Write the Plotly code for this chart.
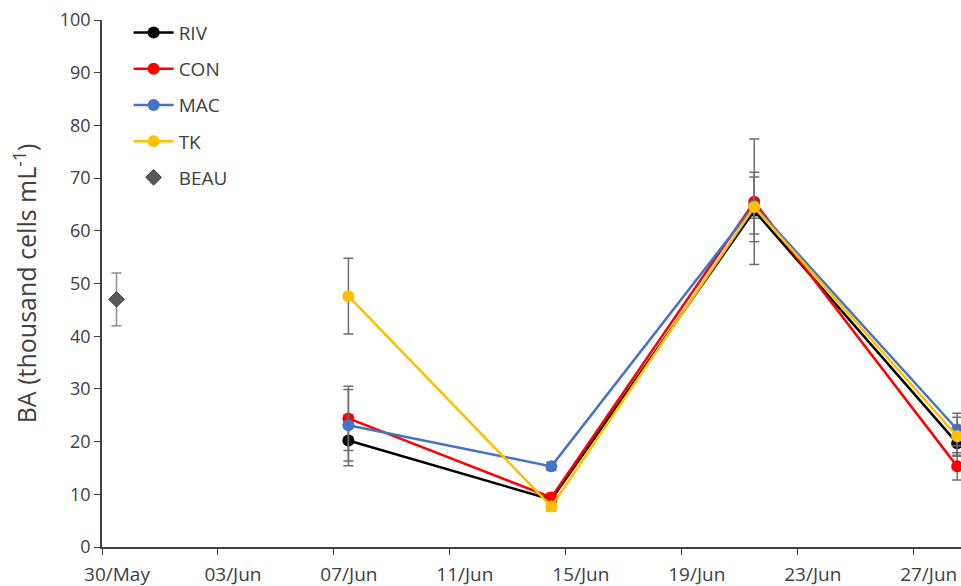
import plotly.graph_objects as go

dates = ["2019-06-07 12:00", "2019-06-14 12:00", "2019-06-21 12:00", "2019-06-28 12:00"]
riv = [20.2, 9.0, 63.8, 19.7]
riv_err = [4.8, 0.8, 1.4, 2.5]
con = [24.4, 9.4, 65.5, 15.3]
con_err = [6.1, 0.8, 11.9, 2.6]
mac = [23.1, 15.3, 64.8, 22.3]
mac_err = [6.8, 0.8, 5.4, 3.1]
tk = [47.6, 7.7, 64.5, 21.0]
tk_err = [7.2, 0.8, 6.6, 3.6]
beau_date = ["2019-05-30 12:00"]
beau = [47.0]
beau_err = [5.0]

series = [
    ("RIV", riv, riv_err, "#000000"),
    ("CON", con, con_err, "#FF0000"),
    ("MAC", mac, mac_err, "#4472C4"),
    ("TK", tk, tk_err, "#FFC000"),
]

font_family = "Open Sans, Lato, sans-serif"
err_color = "#6E6E6E"

fig = go.Figure()
for name, vals, errs, color in series:
    fig.add_trace(go.Scatter(
        x=dates, y=vals, name=name, mode="lines+markers",
        legendgroup=name,
        line=dict(color=color, width=2.5),
        marker=dict(color=color, size=12, line=dict(width=0)),
        error_y=dict(type="data", array=errs, visible=True, color=err_color,
                     thickness=1.5, width=5),
    ))

fig.add_trace(go.Scatter(
    x=beau_date, y=beau, name="BEAU", mode="markers", legendgroup="BEAU",
    marker=dict(symbol="diamond", color="#595959", size=12,
                line=dict(color="#3A3A3A", width=1)),
    error_y=dict(type="data", array=beau_err, visible=True, color="#8C8C8C",
                 thickness=1.5, width=5),
))

fig.update_layout(
    width=961, height=586,
    margin=dict(l=102, r=0, t=20, b=39),
    plot_bgcolor="white", paper_bgcolor="white",
    font=dict(family=font_family, size=18, color="#404040"),
    showlegend=True,
    legend=dict(x=0.031, y=1.012, xanchor="left", yanchor="top",
                bgcolor="rgba(0,0,0,0)", tracegroupgap=8.5, itemwidth=40,
                font=dict(size=19, color="#404040")),
    xaxis=dict(
        type="date", automargin=False,
        range=["2019-05-30 00:00", "2019-06-28 15:10"],
        tick0="2019-05-30", dtick=4 * 86400000, tickformat="%d/%b",
        ticklabelshift=15, ticklabelstandoff=3,
        ticks="outside", ticklen=6, tickcolor="#404040", tickwidth=1.2,
        showline=True, linecolor="#404040", linewidth=1.5,
        showgrid=False, zeroline=False,
        tickfont=dict(size=19, color="#404040"),
    ),
    yaxis=dict(
        range=[0, 100], dtick=10, automargin=False,
        ticks="outside", ticklen=6, tickcolor="#404040", tickwidth=1.2,
        showline=True, linecolor="#404040", linewidth=1.5,
        showgrid=False, zeroline=False,
        tickfont=dict(size=18, color="#404040"),
        title=dict(text="BA (thousand cells mL<sup>-1</sup>)",
                   font=dict(size=25, color="#404040"), standoff=16),
    ),
)

fig.write_html("out.html")
